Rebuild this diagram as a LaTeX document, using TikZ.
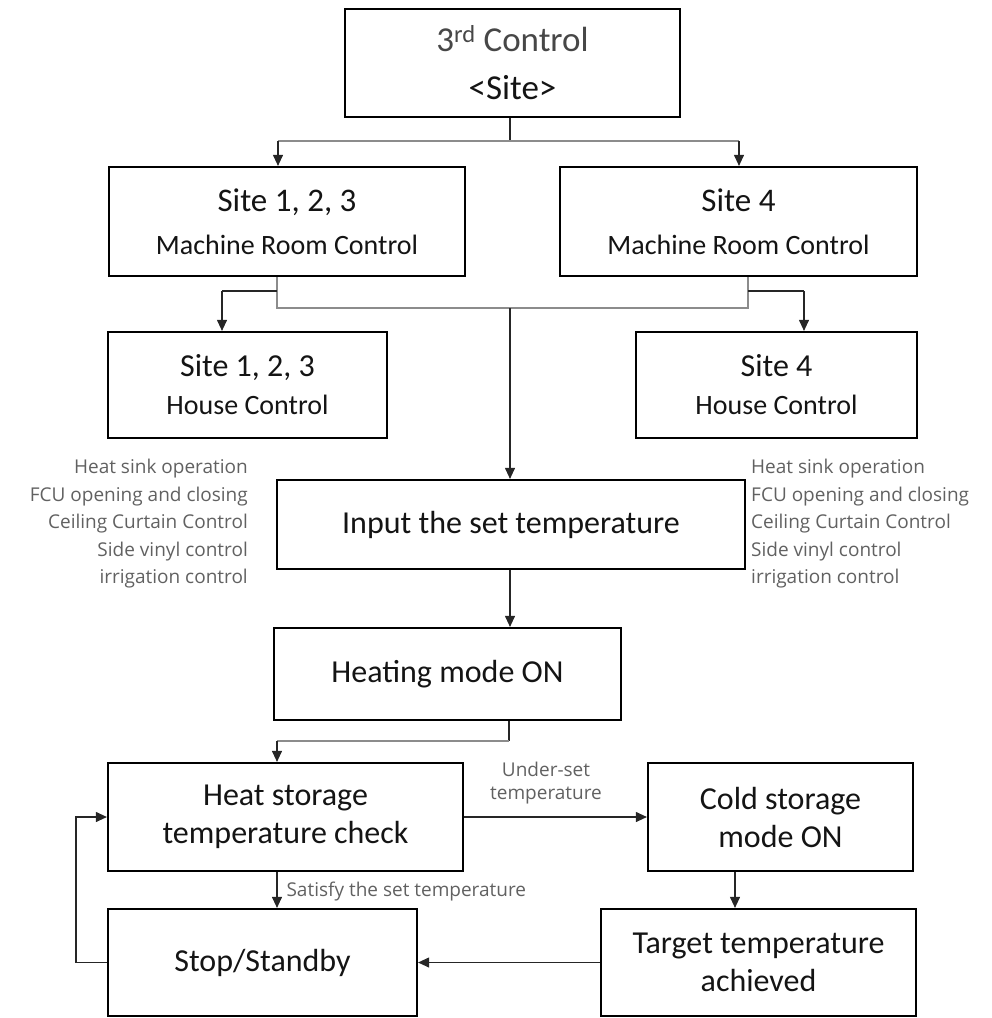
\documentclass[tikz,border=0pt]{standalone}
\usepackage{fontspec}
\setmainfont{Carlito}
\newfontfamily\notefont{Open Sans}
\usetikzlibrary{arrows.meta}

\begin{document}
\begin{tikzpicture}[x=1pt,y=-1pt,
  box/.style={draw=black, line width=2.2pt, inner sep=0pt, align=center, text=black!92},
  big/.style={font=\fontsize{32}{38}\selectfont},
  conn/.style={line width=1.1pt, draw=black!85},
  bus/.style={line width=1.1pt, draw=black!45},
  arr/.style={conn, -{Triangle[length=11pt,width=10pt]}},
  note/.style={font=\notefont\fontsize{19}{27.5}\selectfont, text=black!62, inner sep=0pt}
]
\useasboundingbox (0,0) rectangle (992,1018);

% ---- boxes ----
\node[box, minimum width=335pt, minimum height=108pt,
      font=\fontsize{35}{48}\selectfont] (top) at (512.5,63)
  {\textcolor{black!72}{3\textsuperscript{rd} Control}\\{<}Site{>}};

\node[box, minimum width=356pt, minimum height=109pt,
      font=\fontsize{28}{43}\selectfont] (mr123) at (287,221.5)
  {{\fontsize{33}{43}\selectfont Site 1, 2, 3}\\Machine Room Control};
\node[box, minimum width=357pt, minimum height=109pt,
      font=\fontsize{28}{43}\selectfont] (mr4) at (738.5,221.5)
  {{\fontsize{33}{43}\selectfont Site 4}\\Machine Room Control};

\node[box, minimum width=279pt, minimum height=106pt,
      font=\fontsize{28}{38}\selectfont] (hc123) at (247.5,385)
  {{\fontsize{32}{38}\selectfont Site 1, 2, 3}\\House Control};
\node[box, minimum width=281pt, minimum height=106pt,
      font=\fontsize{28}{38}\selectfont] (hc4) at (776.5,385)
  {{\fontsize{32}{38}\selectfont Site 4}\\House Control};

\node[box, big, minimum width=468pt, minimum height=89pt] (input) at (511,524.5)
  {Input the set temperature};
\node[box, big, minimum width=347pt, minimum height=92pt] (heat) at (447.5,674)
  {Heating mode ON};

\node[box, big, minimum width=355pt, minimum height=108pt] (check) at (285.5,817)
  {Heat storage\\temperature check};
\node[box, big, minimum width=265pt, minimum height=108pt] (cold) at (780.5,817)
  {Cold storage\\mode ON};

\node[box, big, minimum width=309pt, minimum height=107pt] (stop) at (262.5,962.5)
  {Stop/Standby};
\node[box, big, minimum width=315pt, minimum height=107pt] (target) at (758.5,962.5)
  {Target temperature\\achieved};

% ---- side notes ----
\node[note, align=right, anchor=north east] (notesL) at (248,459)
  {Heat sink operation\\FCU opening and closing\\Ceiling Curtain Control\\Side vinyl control\\irrigation control};
\node[note, align=left, anchor=north west] (notesR) at (751,459)
  {Heat sink operation\\FCU opening and closing\\Ceiling Curtain Control\\Side vinyl control\\irrigation control};

% ---- junction points ----
\coordinate (jTop) at (510,141);
\coordinate (dL) at (278,141);
\coordinate (dR) at (739,141);
\coordinate (busL) at (277,308);
\coordinate (busR) at (748,308);
\coordinate (busM) at (510,308);
\coordinate (brL) at (222,291);
\coordinate (brR) at (804,291);
\coordinate (jHeat) at (509,741);
\coordinate (jCheck) at (277,741);
\coordinate (loopX) at (76,0);
\coordinate (coldX) at (735,0);
\coordinate (underAt) at (546,783);

% ---- connectors ----
\draw[conn] (jTop |- top.south) -- (jTop);
\draw[bus] (dL) -- (dR);
\draw[arr] (dL) -- (dL |- mr123.north);
\draw[arr] (dR) -- (dR |- mr4.north);

\draw[bus] (busL |- mr123.south) -- (busL) -- (busR) -- (busR |- mr4.south);
\draw[conn] (busL |- brL) -- (brL);
\draw[arr] (brL) -- (brL |- hc123.north);
\draw[conn] (busR |- brR) -- (brR);
\draw[arr] (brR) -- (brR |- hc4.north);
\draw[arr] (busM) -- (busM |- input.north);

\draw[arr] (busM |- input.south) -- (busM |- heat.north);

\draw[conn] (jHeat |- heat.south) -- (jHeat);
\draw[bus] (jHeat) -- (jCheck);
\draw[arr] (jCheck) -- (jCheck |- check.north);

\draw[arr] (check.east) -- (cold.west);
\node[note, align=center, font=\notefont\fontsize{19}{23}\selectfont] (under) at (underAt)
  {Under-set\\temperature};

\draw[arr] (coldX |- cold.south) -- (coldX |- target.north);
\draw[arr] (target.west) -- (stop.east);

\draw[arr] (jCheck |- check.south) -- (jCheck |- stop.north)
  node[pos=0.55, right=9pt, note] (satisfy) {Satisfy the set temperature};

\draw[arr] (stop.west) -| (loopX |- check.west) -- (check.west);

\end{tikzpicture}
\end{document}
